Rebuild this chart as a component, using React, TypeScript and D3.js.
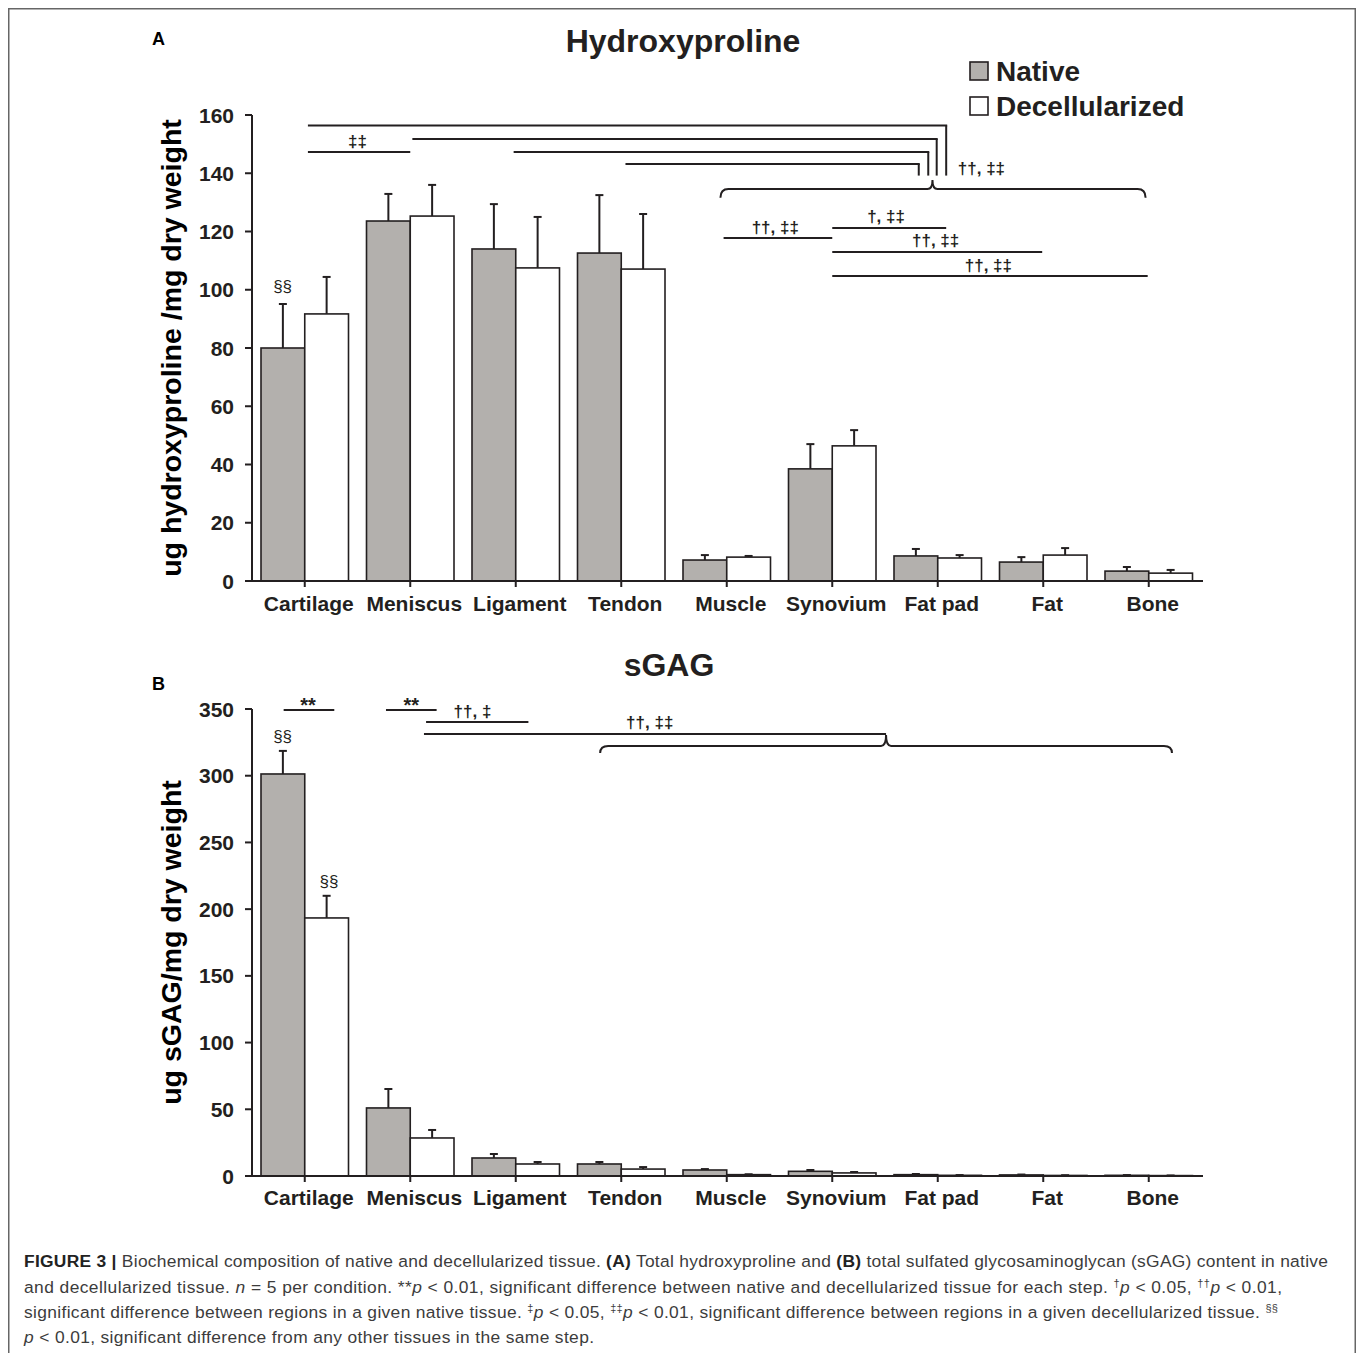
import React from "react";
import * as d3 from "d3";

const categories = ["Cartilage", "Meniscus", "Ligament", "Tendon", "Muscle", "Synovium", "Fat pad", "Fat", "Bone"];

const hypNative = [80, 123.6, 114, 112.6, 7.2, 38.5, 8.6, 6.5, 3.4];
const hypNativeErr = [15.1, 9.3, 15.4, 19.9, 1.7, 8.5, 2.4, 1.7, 1.4];
const hypDecell = [91.7, 125.3, 107.5, 107.1, 8.2, 46.4, 7.9, 8.9, 2.7];
const hypDecellErr = [12.7, 10.7, 17.5, 18.9, 0.4, 5.4, 1.0, 2.4, 1.1];

const gagNative = [301.3, 51, 13.5, 9, 4.5, 3.5, 1.0, 0.8, 0.5];
const gagNativeErr = [17.3, 14.2, 3, 1.5, 0.7, 1.0, 0.5, 0.3, 0.2];
const gagDecell = [193.4, 28.5, 9, 5.2, 1, 2.3, 0.5, 0.4, 0.3];
const gagDecellErr = [16.6, 6, 1.5, 1.5, 0.3, 0.7, 0.2, 0.2, 0.1];

const hypTicks = [0, 20, 40, 60, 80, 100, 120, 140, 160];
const gagTicks = [0, 50, 100, 150, 200, 250, 300, 350];

// significance lines: [x0, x1, y] in category units / data units
const hypLines = [
  { x0: 0.53, x1: 6.58, y: 156.4, drop: 139.2 },
  { x0: 1.52, x1: 6.49, y: 151.8, drop: 139.2 },
  { x0: 2.48, x1: 6.41, y: 147.3, drop: 139.2 },
  { x0: 3.54, x1: 6.32, y: 143.2, drop: 139.2 },
  { x0: 0.53, x1: 1.5, y: 147.3, drop: null },
  { x0: 4.47, x1: 5.5, y: 117.8, drop: null },
  { x0: 5.5, x1: 6.58, y: 121.2, drop: null },
  { x0: 5.5, x1: 7.49, y: 113.0, drop: null },
  { x0: 5.5, x1: 8.49, y: 104.7, drop: null },
];
const hypLabels = [
  { x: 1.0, y: 148.9, text: "‡‡", anchor: "middle" },
  { x: 6.69, y: 139.6, text: "††, ‡‡", anchor: "start" },
  { x: 4.96, y: 119.6, text: "††, ‡‡", anchor: "middle" },
  { x: 6.01, y: 123.3, text: "†, ‡‡", anchor: "middle" },
  { x: 6.48, y: 115.0, text: "††, ‡‡", anchor: "middle" },
  { x: 6.98, y: 106.6, text: "††, ‡‡", anchor: "middle" },
  { x: 0.29, y: 99.2, text: "§§", anchor: "middle" },
];
const hypBrace = { x0: 4.44, x1: 8.47, tip: 6.45, y: 134.6, yTip: 137.7, yEnd: 131.6 };

const gagLines = [
  { x0: 0.3, x1: 0.78, y: 349.3 },
  { x0: 1.27, x1: 1.75, y: 349.3 },
  { x0: 1.65, x1: 2.62, y: 340.3 },
  { x0: 1.63, x1: 6.01, y: 331.3 },
];
const gagLabels = [
  { x: 0.53, y: 347.5, text: "**" },
  { x: 1.51, y: 347.5, text: "**" },
  { x: 2.09, y: 344.2, text: "††, ‡" },
  { x: 3.77, y: 335.6, text: "††, ‡‡" },
  { x: 0.29, y: 325.3, text: "§§" },
  { x: 0.73, y: 216.6, text: "§§" },
];
const gagBrace = { x0: 3.3, x1: 8.72, tip: 6.01, y: 322.3, yTip: 330.5, yEnd: 317 };

const FONT = "'Liberation Sans', Arial, Helvetica, sans-serif";
const GRAY = "#b3b0ad";
const INK = "#231f20";

const xBand = d3.scaleBand<string>().domain(categories).range([252, 1201.5]).paddingInner(0).paddingOuter(0);
const xLin = d3.scaleLinear().domain([0, categories.length]).range([252, 1201.5]);

function bracePath(b: any, y: (v: number) => number) {
  const x0 = xLin(b.x0), x1 = xLin(b.x1), xt = xLin(b.tip);
  const yy = y(b.y), yt = y(b.yTip), ye = y(b.yEnd);
  const r = 8;
  return `M${x0},${ye} Q${x0},${yy} ${x0 + r},${yy} L${xt - 5},${yy} Q${xt},${yy} ${xt},${yt} Q${xt},${yy} ${xt + 5},${yy} L${x1 - r},${yy} Q${x1},${yy} ${x1},${ye}`;
}

function Panel({ native, nativeErr, decell, decellErr, domainMax, top, bottom, ticks, lines, labels, brace, labelBaseline, yTitle, title, titleX, titleY, letter, letterY }: any) {
  const y = d3.scaleLinear().domain([0, domainMax]).range([bottom, top]);
  const bw = xBand.bandwidth();
  const inset = 9;
  const half = bw / 2;
  const bars: any[] = [];
  categories.forEach((c, i) => {
    const b0 = xBand(c) as number;
    const series = [
      { v: native[i], e: nativeErr[i], x: b0 + inset, w: half - inset, fill: GRAY },
      { v: decell[i], e: decellErr[i], x: b0 + half, w: half - inset, fill: "#ffffff" },
    ];
    series.forEach((s, j) => {
      const cx = s.x + s.w / 2;
      bars.push(
        <g key={`${i}-${j}`}>
          <line x1={cx} x2={cx} y1={y(s.v)} y2={y(s.v + s.e)} stroke={INK} strokeWidth={2} />
          <line x1={cx - 4} x2={cx + 4} y1={y(s.v + s.e)} y2={y(s.v + s.e)} stroke={INK} strokeWidth={2} />
          <rect x={s.x} y={y(s.v)} width={s.w} height={bottom - y(s.v)} fill={s.fill} stroke={INK} strokeWidth={1.6} />
        </g>
      );
    });
  });
  return (
    <g>
      <text x={152} y={letterY} fontFamily={FONT} fontWeight="bold" fontSize={18} fill="#000">{letter}</text>
      <text x={titleX} y={titleY} fontFamily={FONT} fontWeight="bold" fontSize={32} fill={INK} textAnchor="middle">{title}</text>
      <text transform={`translate(181,${(top + bottom) / 2}) rotate(-90)`} fontFamily={FONT} fontWeight="bold" fontSize={28.5} fill="#000" textAnchor="middle">{yTitle}</text>
      {bars}
      {/* y axis */}
      <line x1={252} x2={252} y1={top} y2={bottom} stroke={INK} strokeWidth={2} />
      {ticks.map((t: number) => (
        <g key={t}>
          <line x1={245} x2={252} y1={y(t)} y2={y(t)} stroke={INK} strokeWidth={2} />
          <text x={234} y={y(t) + 7.5} fontFamily={FONT} fontWeight="bold" fontSize={21} textAnchor="end" fill={INK}>{t}</text>
        </g>
      ))}
      {/* x axis */}
      <line x1={251} x2={1203} y1={bottom} y2={bottom} stroke={INK} strokeWidth={2} />
      {categories.map((c) => {
        const cx = (xBand(c) as number) + bw / 2;
        return (
          <g key={c}>
            <line x1={cx} x2={cx} y1={bottom} y2={bottom + 6} stroke={INK} strokeWidth={2} />
            <text x={cx + 4} y={labelBaseline} fontFamily={FONT} fontWeight="bold" fontSize={21} textAnchor="middle" fill={INK}>{c}</text>
          </g>
        );
      })}
      {lines.map((l: any, i: number) => (
        <g key={i}>
          <line x1={xLin(l.x0)} x2={xLin(l.x1) + (l.drop != null ? 1 : 0)} y1={y(l.y)} y2={y(l.y)} stroke={INK} strokeWidth={2} />
          {l.drop != null && <line x1={xLin(l.x1)} x2={xLin(l.x1)} y1={y(l.y)} y2={y(l.drop)} stroke={INK} strokeWidth={2} />}
        </g>
      ))}
      {labels.map((l: any, i: number) => (
        <text key={i} x={xLin(l.x)} y={y(l.y)} fontFamily={FONT} fontWeight={l.text === "§§" ? "normal" : "bold"} fontSize={l.text === "**" ? 20 : 17} textAnchor={l.anchor || "middle"} fill={INK}>{l.text}</text>
      ))}
      <path d={bracePath(brace, y)} fill="none" stroke={INK} strokeWidth={2} />
    </g>
  );
}

export default function App() {
  const capFont = { fontFamily: FONT, fontSize: 17.4, fill: "#3c3c3c", lengthAdjust: "spacing" } as any;
  const sup = { baselineShift: "super", fontSize: 11 } as any;
  return (
    <svg width={1357} height={1353} style={{ display: "block", position: "absolute", left: 0, top: 0 }}>
      <rect x={0} y={0} width={1357} height={1353} fill="#fff" />
      <rect x={8.75} y={8.75} width={1346.5} height={1360} fill="none" stroke="#666" strokeWidth={1.5} />
      <Panel native={hypNative} nativeErr={hypNativeErr} decell={hypDecell} decellErr={hypDecellErr}
        domainMax={160} top={115} bottom={581} ticks={hypTicks} lines={hypLines} labels={hypLabels}
        brace={hypBrace} labelBaseline={611} yTitle="ug hydroxyproline /mg dry weight" title="Hydroxyproline"
        titleX={683} titleY={52} letter="A" letterY={45} />
      <Panel native={gagNative} nativeErr={gagNativeErr} decell={gagDecell} decellErr={gagDecellErr}
        domainMax={350} top={709} bottom={1176} ticks={gagTicks} lines={gagLines} labels={gagLabels}
        brace={gagBrace} labelBaseline={1205} yTitle="ug sGAG/mg dry weight" title="sGAG"
        titleX={669} titleY={676} letter="B" letterY={690} />
      {/* legend */}
      <rect x={970} y={62} width={18} height={18} fill={GRAY} stroke={INK} strokeWidth={1.6} />
      <text x={996} y={81} fontFamily={FONT} fontWeight="bold" fontSize={28} fill={INK}>Native</text>
      <rect x={970} y={97} width={18} height={18} fill="#fff" stroke={INK} strokeWidth={1.6} />
      <text x={996} y={116} fontFamily={FONT} fontWeight="bold" fontSize={28} fill={INK}>Decellularized</text>
      {/* caption */}
      <text x={24} y={1267} textLength={1304} {...capFont}>
        <tspan fontWeight="bold" fill="#222">FIGURE 3 |</tspan> Biochemical composition of native and decellularized tissue. <tspan fontWeight="bold" fill="#222">(A)</tspan> Total hydroxyproline and <tspan fontWeight="bold" fill="#222">(B)</tspan> total sulfated glycosaminoglycan (sGAG) content in native
      </text>
      <text x={24} y={1293} textLength={1258} {...capFont}>
        and decellularized tissue. <tspan fontStyle="italic">n</tspan> = 5 per condition. **<tspan fontStyle="italic">p</tspan> &lt; 0.01, significant difference between native and decellularized tissue for each step. <tspan {...sup}>†</tspan><tspan fontStyle="italic">p</tspan> &lt; 0.05, <tspan {...sup}>††</tspan><tspan fontStyle="italic">p</tspan> &lt; 0.01,
      </text>
      <text x={24} y={1318} textLength={1254} {...capFont}>
        significant difference between regions in a given native tissue. <tspan {...sup}>‡</tspan><tspan fontStyle="italic">p</tspan> &lt; 0.05, <tspan {...sup}>‡‡</tspan><tspan fontStyle="italic">p</tspan> &lt; 0.01, significant difference between regions in a given decellularized tissue. <tspan {...sup}>§§</tspan>
      </text>
      <text x={24} y={1343} textLength={570} {...capFont}>
        <tspan fontStyle="italic">p</tspan> &lt; 0.01, significant difference from any other tissues in the same step.
      </text>
    </svg>
  );
}
